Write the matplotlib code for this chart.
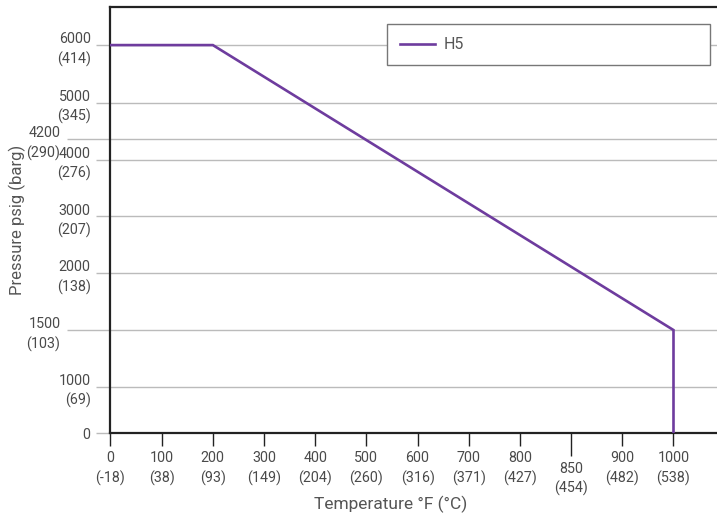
"""Pressure / temperature rating curve for H5."""

import matplotlib as mpl
import matplotlib.pyplot as plt
import numpy as np

# data
temps_f = [0, 200, 1000, 1000]
pressure_psig = [6000, 6000, 1500, 0]
series_name = "H5"

x_major = [0, 100, 200, 300, 400, 500, 600, 700, 800, 900, 1000]
x_major_labels = ["0\n(-18)", "100\n(38)", "200\n(93)", "300\n(149)", "400\n(204)",
                  "500\n(260)", "600\n(316)", "700\n(371)", "800\n(427)",
                  "900\n(482)", "1000\n(538)"]
x_minor = [850]
x_minor_labels = ["850\n(454)"]

y_major = [0, 1000, 2000, 3000, 4000, 5000, 6000]
y_major_labels = ["0", "1000\n(69)", "2000\n(138)", "3000\n(207)", "4000\n(276)",
                  "5000\n(345)", "6000\n(414)"]
y_minor = [1500, 4200]
y_minor_labels = ["1500\n(103)", "4200\n(290)"]

# the chart places its ticks on an uneven grid: piecewise-linear scales
x_knots = [-100, 0, 100, 200, 300, 400, 500, 600, 700, 800, 850, 900, 1000, 1100]
x_slots = np.arange(-1, len(x_knots) - 1, dtype=float)
y_knots = [-1000, 0, 1000, 1500, 2000, 3000, 4000, 4200, 5000, 6000, 8000]
y_slots = [-46.6, 0, 46.6, 103, 160, 216.3, 273, 293.6, 330, 387.3, 502]


def x_fwd(v):
    return np.interp(v, x_knots, x_slots)


def x_inv(p):
    return np.interp(p, x_slots, x_knots)


def y_fwd(v):
    return np.interp(v, y_knots, y_slots)


def y_inv(p):
    return np.interp(p, y_slots, y_knots)


mpl.rcParams.update({
    "font.family": ["Roboto", "DejaVu Sans"],
    "font.size": 10,
})

text_color = "#4a4a4a"
grid_color = "#bbbbbb"
purple = "#6e3c9e"

fig = plt.figure(figsize=(7.17, 5.17), dpi=100)
ax = fig.add_axes([0.1541, 0.1619, 0.8459, 0.8246])
ax.set_xscale("function", functions=(x_fwd, x_inv))
ax.set_yscale("function", functions=(y_fwd, y_inv))

ax.plot(temps_f, pressure_psig, color=purple, linewidth=1.9, label=series_name,
        solid_joinstyle="miter", zorder=3)

ax.set_xlim(0, 1085)
ax.set_ylim(0, 6663)

ax.set_xticks(x_major, x_major_labels)
ax.set_xticks(x_minor, x_minor_labels, minor=True)
ax.set_yticks(y_major, y_major_labels)
ax.set_yticks(y_minor, y_minor_labels, minor=True)

ax.tick_params(axis="x", which="major", length=9.4, width=1.0, color="#222222",
               pad=3.2, labelcolor=text_color, labelsize=10.3)
ax.tick_params(axis="x", which="minor", length=16.6, width=1.0, color="#222222",
               pad=3.8, labelcolor=text_color, labelsize=10.3)
ax.tick_params(axis="y", which="major", length=10, width=1.0, color=grid_color,
               pad=4.3, labelcolor=text_color, labelsize=10.3)
ax.tick_params(axis="y", which="minor", length=31, width=1.0, color=grid_color,
               pad=5.0, labelcolor=text_color, labelsize=10.3)
for lab in ax.get_xticklabels(which="both") + ax.get_yticklabels(which="both"):
    lab.set_linespacing(1.45)

ax.yaxis.grid(True, which="both", color=grid_color, linewidth=1.0, zorder=0)
ax.set_axisbelow(True)

for side in ["left", "bottom", "top"]:
    ax.spines[side].set_color("#222222")
    ax.spines[side].set_linewidth(1.6)
ax.spines["right"].set_visible(False)

legend = ax.legend(
    loc="upper left",
    bbox_to_anchor=(0.456, 0.870, 0.532, 0.089),
    mode="expand",
    frameon=True,
    fancybox=False,
    framealpha=1.0,
    edgecolor="#777777",
    borderpad=0.8,
    handlelength=2.2,
    handletextpad=0.55,
    borderaxespad=0.0,
    fontsize=11.5,
)
legend.get_frame().set_linewidth(1.0)
for txt in legend.get_texts():
    txt.set_color("#555555")

fig.text(391 / 717, 1 - 504 / 517, "Temperature °F (°C)", ha="center", va="center",
         fontsize=12.5, color="#555555")
fig.text(17 / 717, 1 - 220 / 517, "Pressure psig (barg)", ha="center", va="center",
         rotation=90, fontsize=12, color="#555555")

fig.savefig("out.png", dpi=100)
plt.close(fig)
